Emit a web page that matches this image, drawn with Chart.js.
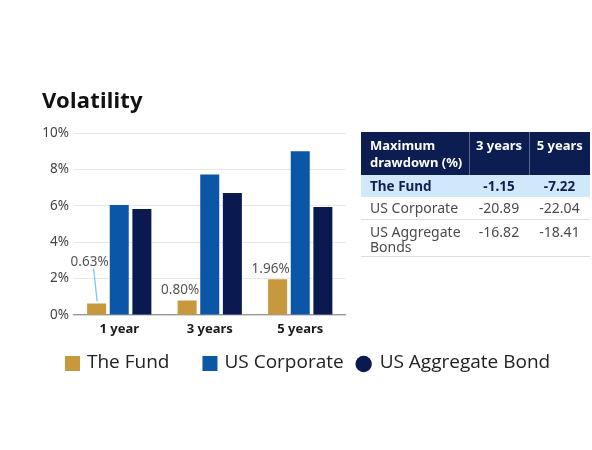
<!DOCTYPE html>
<html>
<head>
<meta charset="utf-8">
<script src="https://cdn.jsdelivr.net/npm/chart.js@4"></script>
<style>
  html,body{margin:0;padding:0;background:#fff;width:592px;height:450px;overflow:hidden;}
  #wrap{position:relative;width:592px;height:450px;}
  #c{position:absolute;left:0;top:0;}
  #title{position:absolute;left:42px;top:84px;font:bold 22px "Noto Sans",sans-serif;color:#111;letter-spacing:0.2px;}
  #tbl{position:absolute;left:361px;top:132px;border-collapse:collapse;font-family:"Noto Sans",sans-serif;table-layout:fixed;}
  #tbl td,#tbl th{padding:0;margin:0;}
  #tbl th{background:#0c1d52;color:#fff;font-size:13px;font-weight:bold;vertical-align:top;line-height:16.5px;padding-top:5px;height:37.5px;}
  #tbl th.c{border-left:1px solid #5a6a90;text-align:center;}
  #tbl th.l{text-align:left;padding-left:9px;}
  #tbl td{font-size:14px;color:#4a4a4a;border-bottom:1px solid #dedede;}
  #tbl td.l{padding-left:9px;}
  #tbl td.c{text-align:center;}
  #tbl tr.fund td{background:#cfe9fa;color:#0c1f56;font-weight:bold;height:22px;font-size:13.5px;border-bottom:none;}
  #tbl tr.corp td{height:22px;}
  #tbl tr.agg td{vertical-align:top;line-height:15.7px;padding-top:4px;height:32px;}
</style>
</head>
<body>
<div id="wrap">
  <canvas id="c" width="592" height="450"></canvas>
  <div id="title">Volatility</div>
  <table id="tbl"></table>
</div>
<script>
// ---- data ----
const categories = ["1 year", "3 years", "5 years"];
const seriesNames = ["The Fund", "US Corporate", "US Aggregate Bond"];
const fundValues = [0.63, 0.80, 1.96];
const corporateValues = [6.05, 7.72, 9.0];
const aggregateValues = [5.83, 6.70, 5.93];
const yTicks = [0, 2, 4, 6, 8, 10];

const tableHeader = ["Maximum<br>drawdown (%)", "3 years", "5 years"];
const tableRows = ["The Fund", "US Corporate", "US Aggregate<br>Bonds"];
const drawdown3y = ["-1.15", "-20.89", "-16.82"];
const drawdown5y = ["-7.22", "-22.04", "-18.41"];

// ---- table ----
(function(){
  const t = document.getElementById('tbl');
  let h = '<colgroup><col style="width:108px"><col style="width:60px"><col style="width:61px"></colgroup>';
  h += '<tr><th class="l">'+tableHeader[0]+'</th><th class="c">'+tableHeader[1]+'</th><th class="c">'+tableHeader[2]+'</th></tr>';
  const cls = ['fund','corp','agg'];
  for (let i=0;i<tableRows.length;i++){
    h += '<tr class="'+cls[i]+'"><td class="l">'+tableRows[i]+'</td><td class="c">'+drawdown3y[i]+'</td><td class="c">'+drawdown5y[i]+'</td></tr>';
  }
  t.innerHTML = h;
})();

const colors = ["#c8983c", "#0b56a6", "#0a1a50"];
const markers = ["rect", "rect", "circle"];

const fundLabels = {
  id: 'fundLabels',
  afterDatasetsDraw(chart) {
    const meta = chart.getDatasetMeta(0);
    const ctx = chart.ctx;
    ctx.save();
    ctx.font = '13.5px "Noto Sans", sans-serif';
    ctx.fillStyle = '#555';
    ctx.textAlign = 'center';
    ctx.textBaseline = 'middle';
    meta.data.forEach((bar, i) => {
      const v = chart.data.datasets[0].data[i];
      const txt = v.toFixed(2) + '%';
      const lx = bar.x - 7;
      if (v < 0.7) {
        const ly = bar.y - 41;
        ctx.strokeStyle = '#7cc6ef';
        ctx.lineWidth = 1.3;
        ctx.beginPath();
        ctx.moveTo(bar.x - 3, ly + 6);
        ctx.lineTo(bar.x + 0.5, bar.y - 2);
        ctx.stroke();
        ctx.fillText(txt, lx, ly);
      } else {
        ctx.fillText(txt, lx, bar.y - 10.5);
      }
    });
    ctx.restore();
  }
};

const customLegend = {
  id: 'customLegend',
  afterDraw(chart) {
    const ctx = chart.ctx;
    ctx.save();
    ctx.font = '19px "Open Sans", sans-serif';
    ctx.fillStyle = '#222';
    ctx.textBaseline = 'middle';
    const yc = 363;
    const gaps = [33, 12];
    let x = 65;
    chart.data.datasets.forEach((ds, i) => {
      ctx.fillStyle = ds.backgroundColor;
      if (markers[i] === 'circle') {
        ctx.beginPath();
        ctx.arc(x + 8, yc + 1, 8.2, 0, Math.PI * 2);
        ctx.fill();
        x += 16 + 8;
      } else {
        ctx.fillRect(x, yc - 7, 15, 15);
        x += 15 + 7;
      }
      ctx.fillStyle = '#222';
      ctx.fillText(ds.label, x, yc);
      x += ctx.measureText(ds.label).width + (gaps[i] || 0);
    });
    ctx.restore();
  }
};

new Chart(document.getElementById('c'), {
  type: 'bar',
  data: {
    labels: categories,
    datasets: [
      { label: seriesNames[0], data: fundValues, backgroundColor: colors[0] },
      { label: seriesNames[1], data: corporateValues, backgroundColor: colors[1] },
      { label: seriesNames[2], data: aggregateValues, backgroundColor: colors[2] }
    ]
  },
  options: {
    responsive: false,
    animation: false,
    layout: { padding: { left: 0, right: 246.5, top: 133, bottom: 105 } },
    datasets: { bar: { categoryPercentage: 0.75, barPercentage: 0.84 } },
    plugins: {
      legend: { display: false },
      title: { display: false },
      tooltip: { enabled: false }
    },
    scales: {
      x: {
        grid: { display: false, drawTicks: false },
        border: { display: true, color: '#9a9a9a', width: 1.2 },
        ticks: { color: '#1a1a1a', font: { family: '"Noto Sans", sans-serif', size: 13, weight: 'bold' }, padding: 6 },
        afterFit(s) { s.height = 30; }
      },
      y: {
        min: 0, max: 10,
        afterBuildTicks(s) { s.ticks = yTicks.map(v => ({ value: v })); },
        grid: { color: '#e8e8e8', drawTicks: false, lineWidth: 1 },
        border: { display: false },
        ticks: { color: '#444', font: { family: '"Noto Sans", sans-serif', size: 13.5 }, padding: 5, callback: v => v + '%' },
        afterFit(s) { s.width = 74; }
      }
    }
  },
  plugins: [fundLabels, customLegend]
});
</script>
</body>
</html>
